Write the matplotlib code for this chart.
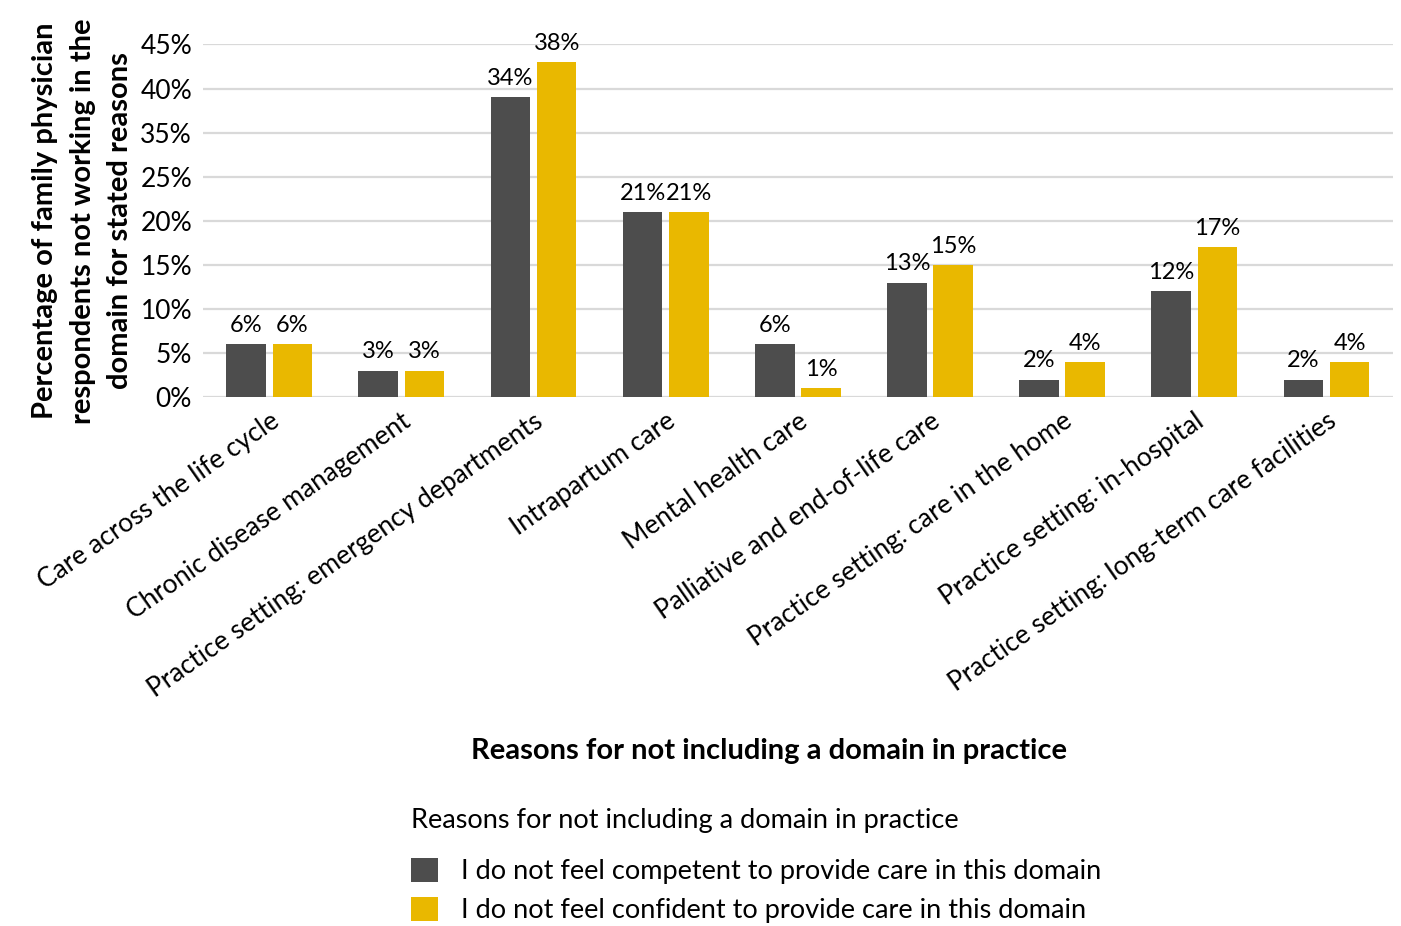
import matplotlib.pyplot as plt
import numpy as np
from matplotlib.patches import Patch

# ==========================
# Data
# ==========================
categories = [
    "Care across the life cycle",
    "Chronic disease management",
    "Practice setting: emergency departments",
    "Intrapartum care",
    "Mental health care",
    "Palliative and end-of-life care",
    "Practice setting: care in the home",
    "Practice setting: in-hospital",
    "Practice setting: long-term care facilities",
]
competent = [6, 3, 34, 21, 6, 13, 2, 12, 2]
confident = [6, 3, 38, 21, 1, 15, 4, 17, 4]

series_names = [
    "I do not feel competent to provide care in this domain",
    "I do not feel confident to provide care in this domain",
]
colors = ["#4d4d4d", "#e9b800"]

# tick labels as printed on the axis (no 30% label)
y_ticks = [0, 5, 10, 15, 20, 25, 30, 35, 40]
y_tick_labels = ["0%", "5%", "10%", "15%", "20%", "25%", "35%", "40%", "45%"]

plt.rcParams["font.family"] = ["Lato", "DejaVu Sans"]

fig = plt.figure(figsize=(14.01, 9.26), dpi=100)
ax = fig.add_axes([0.145, 0.571, 0.849, 0.381])

x = np.arange(len(categories))
w = 0.30
off = 0.175

b1 = ax.bar(x - off, competent, w, color=colors[0], zorder=3)
b2 = ax.bar(x + off, confident, w, color=colors[1], zorder=3)

ax.bar_label(b1, labels=[f"{v}%" for v in competent], padding=6, fontsize=17)
ax.bar_label(b2, labels=[f"{v}%" for v in confident], padding=6, fontsize=17)

ax.set_xlim(-0.5, len(categories) - 0.5)
ax.set_ylim(0, 40)
ax.set_yticks(y_ticks)
ax.set_yticklabels(y_tick_labels, fontsize=19)
ax.yaxis.grid(True, color="#d9d9d9", linewidth=1.6, zorder=0)
ax.set_axisbelow(True)
for s in ax.spines.values():
    s.set_visible(False)
ax.tick_params(axis="both", length=0)
ax.tick_params(axis="y", pad=8)

ax.set_xticks(x)
ax.set_xticklabels(categories, rotation=35, ha="right",
                   rotation_mode="anchor", fontsize=19)
ax.tick_params(axis="x", pad=8)

ax.set_ylabel("Percentage of family physician\nrespondents not working in the\ndomain for stated reasons",
              fontsize=21, fontweight="bold", labelpad=5, linespacing=1.55)

fig.text(0.549, 0.189, "Reasons for not including a domain in practice",
         ha="center", va="center", fontsize=21, fontweight="bold")

handles = [Patch(facecolor=c) for c in colors]
leg = fig.legend(handles, series_names, loc="upper left",
                 bbox_to_anchor=(0.2835, 0.142),
                 title="Reasons for not including a domain in practice",
                 frameon=False, fontsize=19.5, title_fontsize=19.5,
                 handlelength=1.0, handleheight=1.0, handletextpad=0.85,
                 labelspacing=0.45, borderpad=0)
leg._legend_box.align = "left"
leg._legend_box.sep = 18

fig.savefig("out.png", dpi=100)
